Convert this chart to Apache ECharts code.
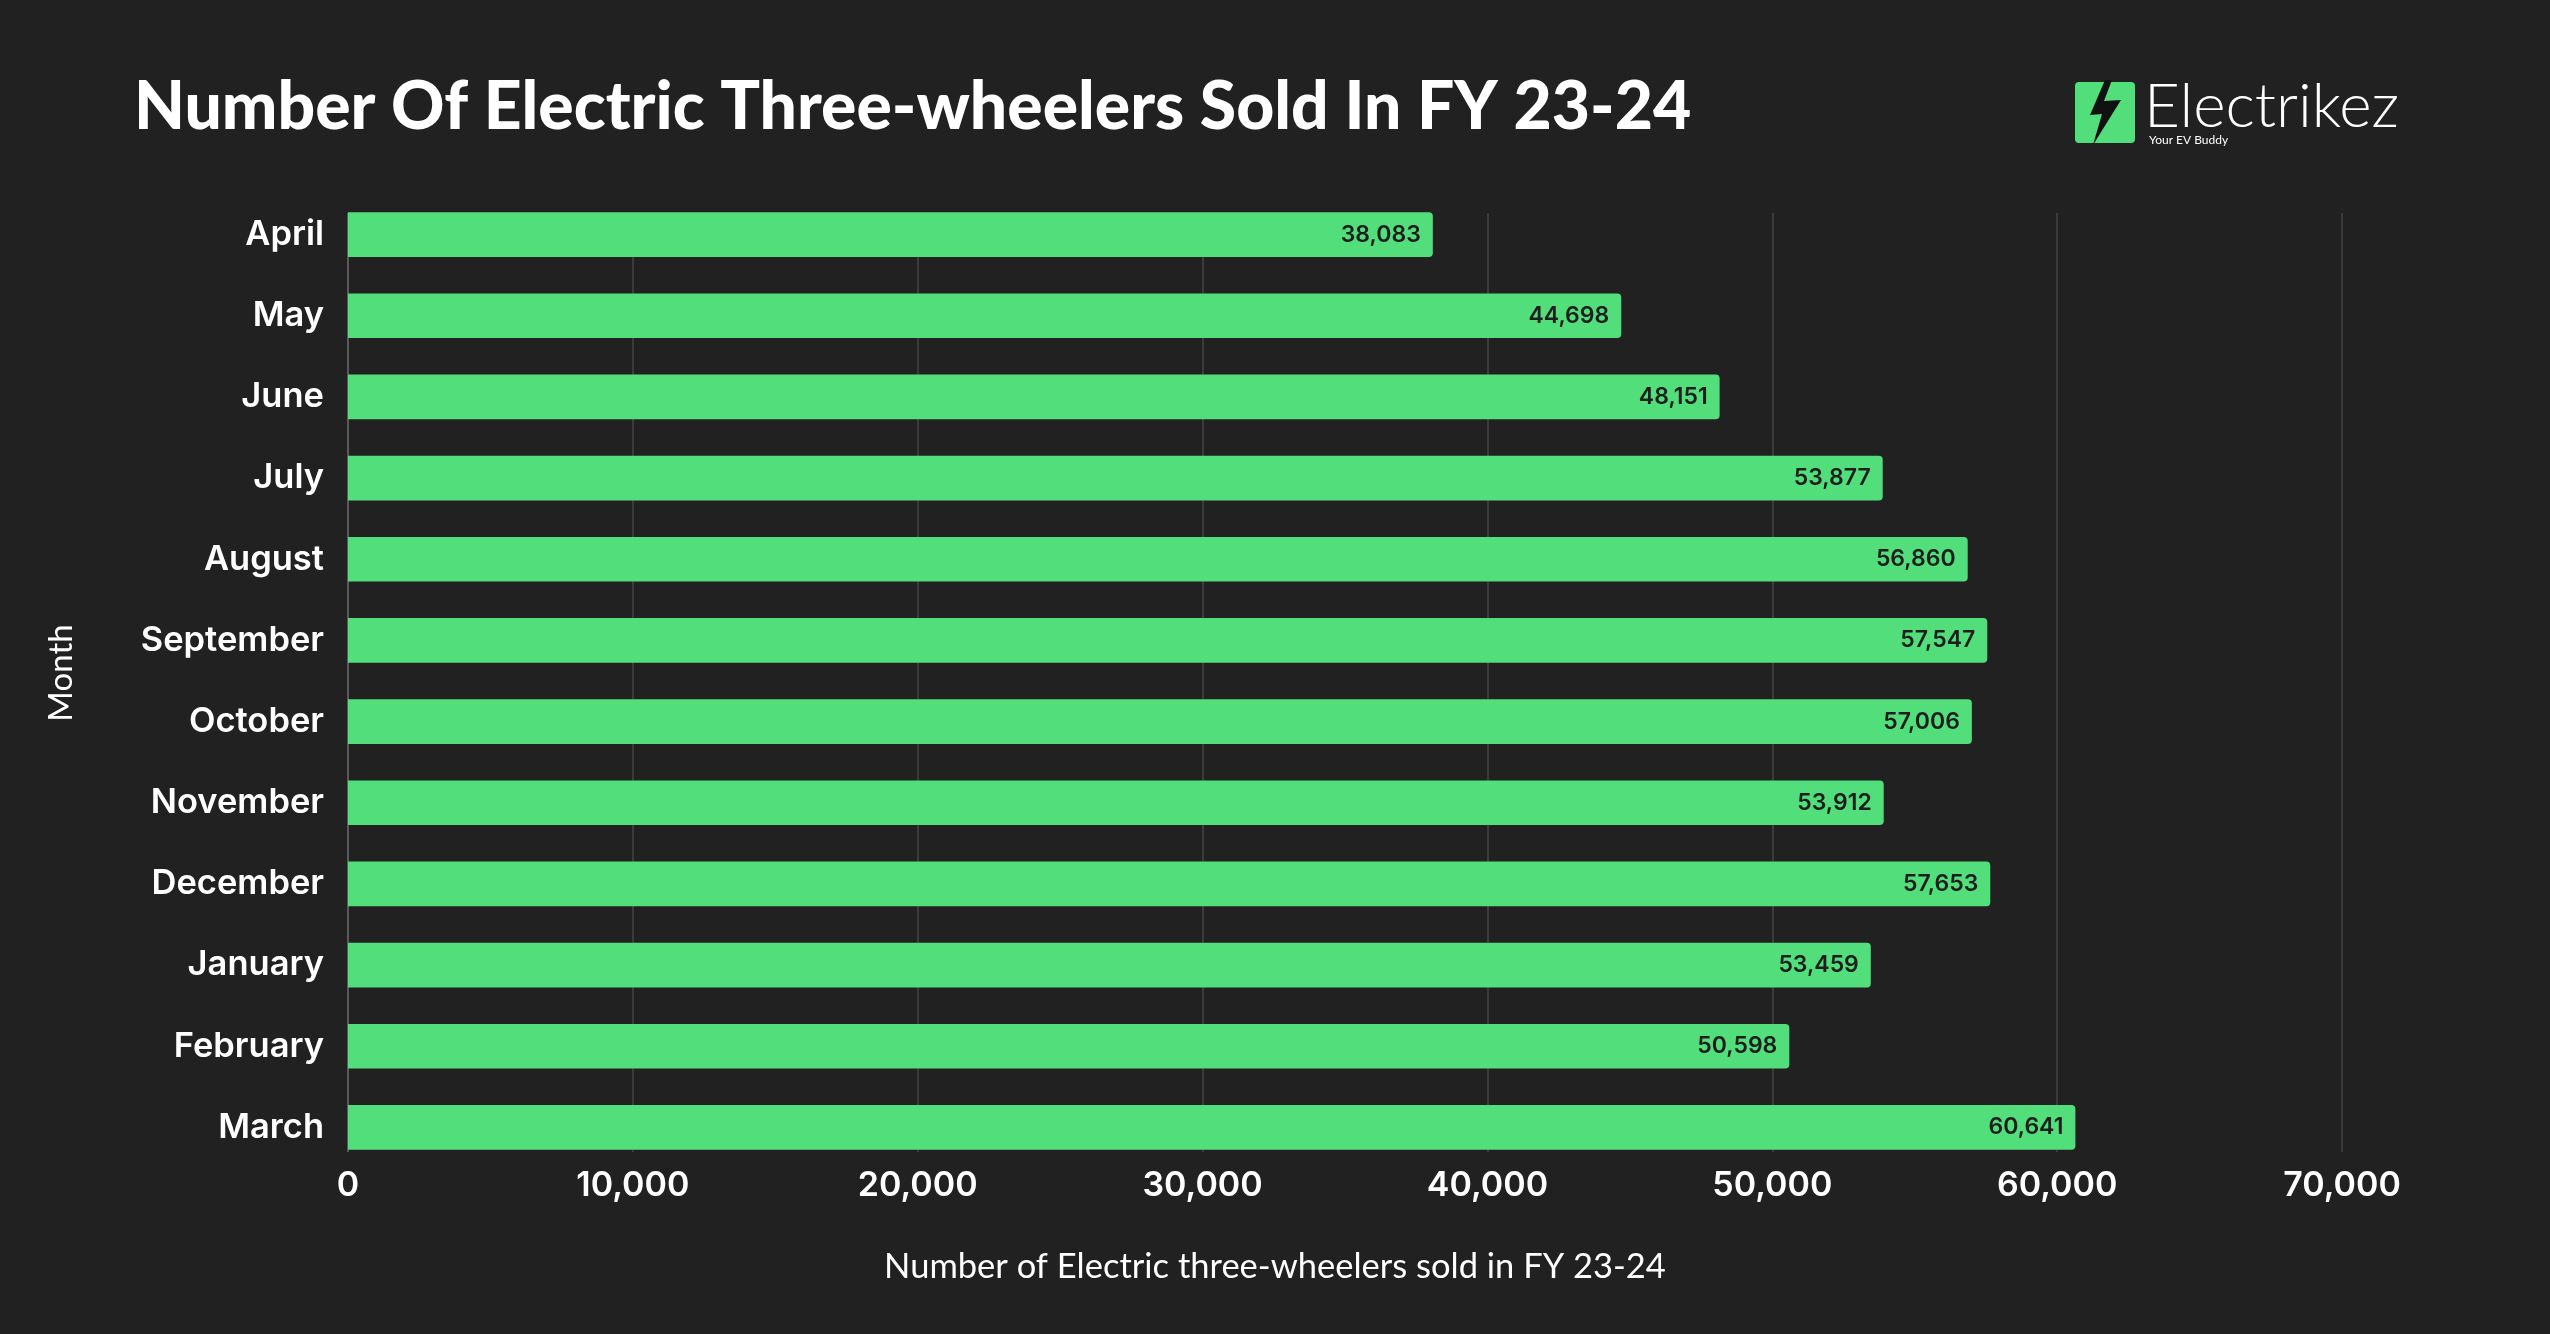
<!DOCTYPE html>
<html>
<head>
<meta charset="utf-8">
<script src="https://cdn.jsdelivr.net/npm/echarts@6/dist/echarts.min.js"></script>
<style>
html,body{margin:0;padding:0;background:#212121;}
#c{width:2550px;height:1334px;}
</style>
</head>
<body>
<div id="c"></div>
<script>
const months = ['April','May','June','July','August','September','October','November','December','January','February','March'];
const sold = [38083,44698,48151,53877,56860,57547,57006,53912,57653,53459,50598,60641];
const xTicks = [0,10000,20000,30000,40000,50000,60000,70000];
const titleText = 'Number Of Electric Three-wheelers Sold In FY 23-24';
const xName = 'Number of Electric three-wheelers sold in FY 23-24';
const yName = 'Month';

const chart = echarts.init(document.getElementById('c'));
const fmt = v => v.toLocaleString('en-US');
const GREEN = '#51de7b';
const axisMin = xTicks[0], axisMax = xTicks[xTicks.length-1], step = xTicks[1]-xTicks[0];

chart.setOption({
  backgroundColor: '#212121',
  animation: false,
  title: [
    { text: titleText, left: 129, top: 70,
      textStyle: { color: '#ffffff', fontFamily: 'Lato', fontWeight: 900, fontSize: 66 } },
    { text: xName, left: 'center', top: 1244,
      textStyle: { color: '#ffffff', fontFamily: 'Lato', fontWeight: 400, fontSize: 34.5 } }
  ],
  grid: [
    { left: 348, right: 208, top: 194, bottom: 166 },
    { left: 348, right: 208, top: 213, bottom: 182 }
  ],
  xAxis: [
    { type: 'value', gridIndex: 0, min: axisMin, max: axisMax, interval: step,
      axisLine: { show: false }, axisTick: { show: false }, splitLine: { show: false },
      axisLabel: { color: '#ffffff', fontFamily: 'Inter', fontWeight: 600, fontSize: 34, margin: 1,
        formatter: v => fmt(v) } },
    { type: 'value', gridIndex: 1, min: axisMin, max: axisMax, interval: step,
      axisLine: { show: false }, axisTick: { show: false }, axisLabel: { show: false },
      splitLine: { show: true, lineStyle: { width: 2, color: ['#595959','#3b3b3b','#3b3b3b','#3b3b3b','#3b3b3b','#3b3b3b','#3b3b3b','#3b3b3b'] } } }
  ],
  yAxis: [
    { type: 'category', gridIndex: 0, data: months, inverse: true,
      axisLine: { show: false }, axisTick: { show: false },
      axisLabel: { color: '#ffffff', fontFamily: 'Inter', fontWeight: 600, fontSize: 34.5, margin: 24 } },
    { type: 'value', gridIndex: 1, show: false, min: 0, max: 1 }
  ],
  series: [
    { type: 'bar', xAxisIndex: 0, yAxisIndex: 0, data: sold, barCategoryGap: '45%',
      itemStyle: { color: GREEN, borderRadius: [0,4,4,0] },
      label: { show: true, position: 'insideRight', distance: 12, color: '#1e1e1e',
        fontFamily: 'Inter', fontWeight: 600, fontSize: 23, formatter: p => fmt(p.value) },
      z: 5 }
  ],
  graphic: [
    { type: 'text', rotation: Math.PI/2, x: 61, y: 673,
      style: { text: yName, fill: '#ffffff', font: '400 33px Lato', textAlign: 'center', textVerticalAlign: 'middle' } },
    { type: 'rect', shape: { x: 2075, y: 82, width: 60, height: 61, r: 4 }, style: { fill: GREEN } },
    { type: 'polygon', shape: { points: [[2105,80],[2112,80],[2104,101],[2121,100],[2093,145],[2102,114],[2090,115]] },
      style: { fill: '#111111' } },
    { type: 'text', x: 2144, y: 107, style: { text: 'Electrikez', fill: '#ffffff', font: '300 62px Lato', textVerticalAlign: 'middle' } },
    { type: 'text', x: 2149, y: 140, style: { text: 'Your EV Buddy', fill: '#ffffff', font: '400 12px Lato', textVerticalAlign: 'middle' } }
  ]
});
</script>
</body>
</html>
